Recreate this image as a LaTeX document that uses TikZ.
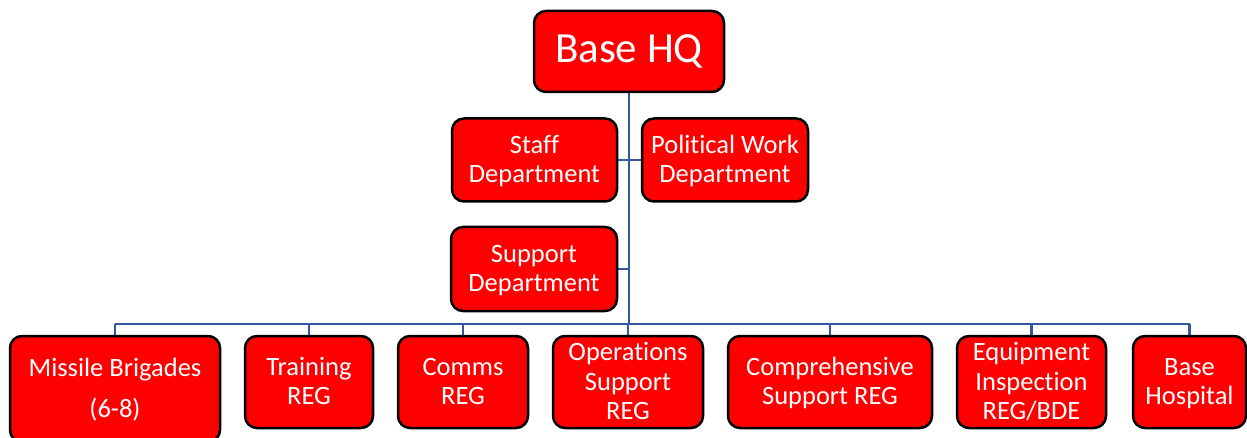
\documentclass[tikz,border=0pt]{standalone}
\usepackage{fontspec}
\setmainfont{Carlito}[Ligatures={NoCommon}]
\usetikzlibrary{backgrounds}
\definecolor{boxred}{RGB}{255,0,0}
\definecolor{linkblue}{RGB}{52,88,160}
\newcommand{\tstrx}{\rule{0pt}{23pt}}
\newcommand{\bstrx}{\rule[-7pt]{0pt}{7pt}}
\tikzset{
  unit/.style={draw=black, line width=2.5pt, fill=boxred, rounded corners=12pt,
    text=white, align=center, inner sep=0pt,
    font=\fontsize{26.5}{29.5}\selectfont},
  hq/.style={draw=black, line width=2.5pt, fill=boxred, rounded corners=12pt,
    text=white, inner sep=0pt, text height=30pt, text depth=7pt,
    font=\fontsize{43}{48}\selectfont},
  link/.style={draw=linkblue, line width=2.3pt}
}
\begin{document}
\begin{tikzpicture}[x=1pt,y=-1pt]
\useasboundingbox (0,0) rectangle (1247,438);
\clip (0,0) rectangle (1247,438);
\node[hq, minimum width=190pt, minimum height=81pt] (hq) at (629,51.5) {Base HQ};
\node[unit, minimum width=165pt, minimum height=83pt] (staff) at (534.5,160) {\tstrx Staff\\Department\bstrx};
\node[unit, minimum width=166pt, minimum height=83pt] (pol) at (725,160) {\tstrx Political Work\\Department\bstrx};
\node[unit, minimum width=166pt, minimum height=84pt] (sup) at (534,269) {\tstrx Support\\Department\bstrx};
\node[unit, minimum width=210pt, minimum height=106pt] (mis) at (115,389) {\tstrx Missile Brigades\\[11.5pt](6-8)\bstrx};
\node[unit, minimum width=128pt, minimum height=92pt] (trn) at (309,382) {\tstrx Training\\REG\bstrx};
\node[unit, minimum width=130pt, minimum height=92pt] (com) at (463,382) {\tstrx Comms\\REG\bstrx};
\node[unit, minimum width=150pt, minimum height=92pt] (ops) at (628,382) {\tstrx Operations\\Support\\REG\bstrx};
\node[unit, minimum width=204pt, minimum height=92pt] (cmp) at (830,382) {\tstrx Comprehensive\\Support REG\bstrx};
\node[unit, minimum width=149pt, minimum height=92pt] (eqp) at (1031.5,382) {\tstrx Equipment\\Inspection\\REG/BDE\bstrx};
\node[unit, minimum width=113pt, minimum height=92pt] (hos) at (1189.5,382) {\tstrx Base\\Hospital\bstrx};
\coordinate (bus) at (629,324);
\begin{pgfonlayer}{background}
\draw[link] (hq.south) -- (bus);
\draw[link] (staff.east) -- (pol.west);
\draw[link] (sup.east) -- (sup.east -| bus);
\draw[link] (mis.north |- bus) -- (hos.north |- bus);
\foreach \n in {mis,trn,com,ops,cmp,eqp,hos}
  \draw[link] (\n.north) -- (\n.north |- bus);
\end{pgfonlayer}
\end{tikzpicture}
\end{document}
